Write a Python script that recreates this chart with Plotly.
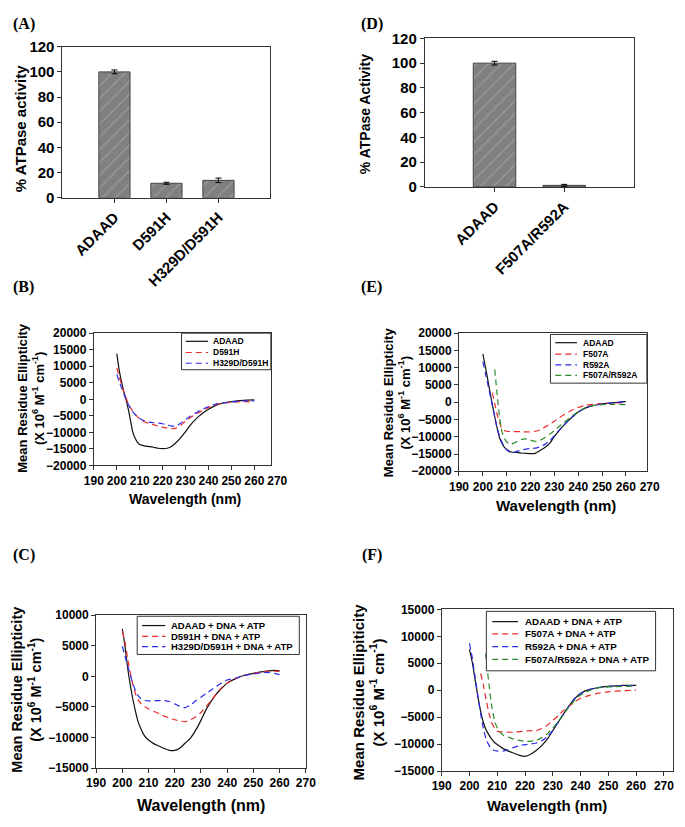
import plotly.graph_objects as go

W, H = 685, 827
SANS = "Liberation Sans"
SERIF = "Liberation Serif"

# ---------------- data ----------------
a_categories = ["ADAAD", "D591H", "H329D/D591H"]
a_activity = [100, 11.5, 13.8]
a_error = [1.5, 0.8, 1.8]

d_categories = ["ADAAD", "F507A/R592A"]
d_activity = [100, 1.3]
d_error = [1.5, 0.8]

wl_ticks = [190, 200, 210, 220, 230, 240, 250, 260, 270]

# Panel B
b_names = ["ADAAD", "D591H", "H329D/D591H"]
b_wl = [200, 201, 202, 203, 204, 205, 206, 207, 208, 209, 210, 212, 214, 216, 218, 220,
        222, 224, 226, 228, 230, 232, 234, 236, 238, 240, 243, 246, 250, 255, 260]
b_adaad = [13800, 9000, 5500, 2500, 0, -3000, -6500, -10000, -11800, -13000, -13700, -14100,
           -14300, -14500, -14800, -14900, -14800, -14200, -13000, -11500, -9800, -7900, -6300,
           -5000, -3900, -3000, -1900, -1200, -700, -300, -200]
b_d591h = [9500, 7000, 4600, 2300, 500, -1200, -2600, -3600, -4500, -5300, -5900, -6800, -7300,
           -7700, -8100, -8400, -8700, -8900, -8700, -7800, -6600, -5600, -4700, -3900, -3200,
           -2500, -1700, -1200, -900, -700, -800]
b_h329d = [7500, 5500, 3600, 1800, 0, -1500, -2800, -3800, -4600, -5300, -5800, -6500, -6900,
           -7100, -7200, -7400, -7700, -8100, -8000, -7200, -6100, -5100, -4300, -3500, -2800,
           -2200, -1500, -1100, -800, -500, -500]

# Panel E
e_names = ["ADAAD", "F507A", "R592A", "F507A/R592A"]
e_wl = [200, 201, 202, 203, 204, 205, 206, 207, 208, 209, 210, 212, 214, 216, 218, 220,
        222, 224, 226, 228, 230, 232, 234, 236, 238, 240, 243, 246, 250, 255, 260]
e_adaad = [14000, 10500, 6800, 3000, -700, -4200, -7500, -10200, -11900, -13000, -13700, -14400,
           -14500, -14700, -14800, -14900, -14800, -14000, -13100, -11900, -9900, -8200, -6600,
           -5200, -4000, -2800, -1700, -1000, -500, -100, 200]
e_r592a = [11800, 8600, 5500, 2200, -1000, -4300, -7500, -9800, -11600, -12900, -13800, -14700,
           -14300, -13900, -13600, -13400, -13300, -12900, -12200, -11200, -9700, -8100, -6600,
           -5200, -4000, -2900, -1700, -1000, -500, -100, 100]
e_f507a_wl = [204, 205, 206, 207, 208, 209, 210, 212, 214, 216, 218, 220, 222, 224, 226, 228,
              230, 232, 234, 236, 238, 240, 243, 246, 250, 255, 260]
e_f507a = [2800, -500, -3500, -5800, -7600, -8200, -8400, -8500, -8500, -8500, -8600, -8600,
           -8400, -8000, -7200, -6400, -5500, -4500, -3600, -2800, -2100, -1500, -900, -600,
           -400, -200, -100]
e_double_wl = [205, 206, 207, 208, 209, 210, 211, 212, 214, 216, 218, 220, 222, 224, 226, 228,
               230, 232, 234, 236, 238, 240, 243, 246, 250, 255, 260]
e_double = [9500, 2300, -4300, -8500, -10400, -11500, -12000, -12100, -11500, -10800, -10600,
            -11000, -11300, -11000, -10300, -9300, -8200, -7000, -5900, -4800, -3700, -2700,
            -1600, -1000, -700, -600, -700]

# Panel C
c_names = ["ADAAD + DNA + ATP", "D591H + DNA + ATP", "H329D/D591H + DNA + ATP"]
c_wl = [200, 201, 202, 203, 204, 205, 206, 207, 208, 209, 210, 212, 214, 216, 218, 220,
        222, 224, 226, 228, 230, 232, 234, 236, 238, 240, 243, 246, 250, 255, 258, 260]
c_adaad = [7800, 5000, 1500, -1300, -3700, -5700, -7400, -8500, -9400, -10000, -10400, -11000,
           -11400, -11800, -12100, -12100, -11700, -10900, -10100, -8800, -7200, -5400, -4000,
           -2800, -1900, -1100, -400, 100, 500, 850, 1000, 900]
c_d591h = [7400, 5600, 3000, 700, -1300, -2800, -3800, -4400, -4800, -5100, -5300, -5700, -6100,
           -6500, -6800, -7100, -7300, -7400, -7100, -6600, -5900, -4900, -3900, -2800, -1800,
           -1100, -400, 100, 500, 800, 850, 800]
c_h329d = [4900, 3400, 1800, 300, -1100, -2300, -3100, -3600, -3800, -3950, -4000, -4000, -3950,
           -3950, -4100, -4500, -4900, -5100, -4700, -4000, -3400, -2800, -2200, -1600, -1000,
           -600, -300, 100, 400, 650, 500, 300]

# Panel F
f_names = ["ADAAD + DNA + ATP", "F507A + DNA + ATP", "R592A + DNA + ATP",
           "F507A/R592A + DNA + ATP"]
f_wl = [200, 201, 202, 203, 204, 205, 206, 207, 208, 209, 210, 212, 214, 216, 218, 220,
        222, 224, 226, 228, 230, 232, 234, 236, 238, 240, 243, 246, 250, 255, 260]
f_adaad = [7600, 5200, 2000, -1100, -3900, -6000, -7400, -8300, -9100, -9700, -10100, -10800,
           -11300, -11700, -12100, -12300, -11900, -11200, -10300, -9100, -7500, -5900, -4300,
           -2800, -1500, -600, 100, 450, 700, 900, 900]
f_r592a = [8700, 6000, 2500, -1000, -4300, -7100, -9100, -10200, -10900, -11200, -11300, -11300,
           -11000, -10600, -10300, -10100, -10000, -9800, -9400, -8600, -7500, -5900, -4300,
           -2800, -1500, -600, 100, 450, 700, 850, 850]
f_f507a_wl = [204, 205, 206, 207, 208, 209, 210, 212, 214, 216, 218, 220, 222, 224, 226, 228,
              230, 232, 234, 236, 238, 240, 243, 246, 250, 255, 260]
f_f507a = [3100, 1000, -1800, -4200, -6000, -7000, -7600, -7800, -7800, -7800, -7700, -7600,
           -7500, -7500, -7100, -6500, -5600, -4700, -3700, -2900, -2100, -1500, -1000, -600,
           -300, -100, 0]
f_double_wl = [205.8, 206.5, 207, 208, 209, 210, 212, 214, 216, 218, 220, 222, 224, 226, 228,
               230, 232, 234, 236, 238, 240, 243, 246, 250, 255, 260]
f_double = [6800, 3500, 1200, -2900, -5600, -7000, -8300, -8700, -9100, -9300, -9500, -9500,
            -9300, -8800, -8100, -7000, -5800, -4400, -3000, -1800, -900, -100, 400, 600, 700, 800]

# ---------------- styling ----------------
BLACK, RED, BLUE, GREEN = "#111111", "#ee2a2a", "#2a2aee", "#2a8a2a"
DASH = "6px,4px"
AXC = "#333333"
LW = 1.2


def xd(l, r):
    return [l / W, r / W]


def yd(t, b):
    return [1 - b / H, 1 - t / H]


fig = go.Figure()

bar_marker = dict(color="#808080", line=dict(color="#454545", width=1),
                  pattern=dict(shape="/", bgcolor="#808080", fgcolor="#b4b4b4",
                               size=9, solidity=0.15))

fig.add_trace(go.Bar(x=a_categories, y=a_activity, width=0.6, marker=bar_marker,
                     error_y=dict(type="data", array=a_error, color="black", thickness=1, width=3),
                     xaxis="x", yaxis="y", showlegend=False))
fig.add_trace(go.Bar(x=d_categories, y=d_activity, width=0.61, marker=bar_marker,
                     error_y=dict(type="data", array=d_error, color="black", thickness=1, width=3),
                     xaxis="x2", yaxis="y2", showlegend=False))


def add_line(x, y, name, color, dash, xa, ya):
    fig.add_trace(go.Scatter(x=x, y=y, name=name, mode="lines",
                             line=dict(color=color, width=LW, dash=dash, shape="spline",
                                       smoothing=0.6),
                             xaxis=xa, yaxis=ya, showlegend=False))


add_line(b_wl, b_adaad, b_names[0], BLACK, "solid", "x3", "y3")
add_line(b_wl, b_d591h, b_names[1], RED, DASH, "x3", "y3")
add_line(b_wl, b_h329d, b_names[2], BLUE, DASH, "x3", "y3")

add_line(e_wl, e_adaad, e_names[0], BLACK, "solid", "x4", "y4")
add_line(e_f507a_wl, e_f507a, e_names[1], RED, DASH, "x4", "y4")
add_line(e_wl, e_r592a, e_names[2], BLUE, DASH, "x4", "y4")
add_line(e_double_wl, e_double, e_names[3], GREEN, DASH, "x4", "y4")

add_line(c_wl, c_adaad, c_names[0], BLACK, "solid", "x5", "y5")
add_line(c_wl, c_d591h, c_names[1], RED, DASH, "x5", "y5")
add_line(c_wl, c_h329d, c_names[2], BLUE, DASH, "x5", "y5")

add_line(f_wl, f_adaad, f_names[0], BLACK, "solid", "x6", "y6")
add_line(f_f507a_wl, f_f507a, f_names[1], RED, DASH, "x6", "y6")
add_line(f_wl, f_r592a, f_names[2], BLUE, DASH, "x6", "y6")
add_line(f_double_wl, f_double, f_names[3], GREEN, DASH, "x6", "y6")

# empty traces that carry the tick-label axes of panels B and E
fig.add_trace(go.Scatter(x=[], y=[], xaxis="x7", yaxis="y3", showlegend=False, hoverinfo="skip"))
fig.add_trace(go.Scatter(x=[], y=[], xaxis="x8", yaxis="y4", showlegend=False, hoverinfo="skip"))

frame = dict(showline=True, linecolor=AXC, linewidth=1, mirror=True, ticks="outside",
             ticklen=4, tickcolor=AXC, showgrid=False, zeroline=False)


def tf(size):
    return dict(family=SANS, size=size, color="black", weight="bold")


# panel geometry in pixels: left, right, top, bottom; x range end
geo = {
    "B": (86.4, 268.7, 331, 466, 267.2),
    "E": (462.5, 656, 331, 472, 268.8),
    "C": (88.7, 304.7, 619, 775, 270),
    "F": (444.7, 683, 613, 778, 273.3),
}


def label_domain(key):
    l, r, t, b, rend = geo[key]
    ppu = (r - l) / (rend - 190)
    return xd(l, l + ppu * 80)


layout_axes = dict(
    xaxis=dict(domain=xd(54, 268.3), type="category", range=[-1, 3], anchor="y",
               tickangle=-45, tickfont=tf(15), **frame),
    yaxis=dict(domain=yd(38.5, 192.7), range=[0, 120], dtick=20, anchor="x",
               tickfont=tf(15), **frame),
    xaxis2=dict(domain=xd(427.3, 642.7), type="category", range=[-1, 2], anchor="y2",
                tickangle=-45, tickfont=tf(15), **frame),
    yaxis2=dict(domain=yd(30, 181.7), range=[0, 120], dtick=20, anchor="x2",
                tickfont=tf(15), **frame),
)

ykeys = {"B": 3, "E": 4, "C": 5, "F": 6}
yranges = {"B": [-20000, 20000], "E": [-20000, 20000], "C": [-15000, 10000],
           "F": [-15000, 15000]}
for key, n in ykeys.items():
    l, r, t, b, rend = geo[key]
    inner = [v for v in wl_ticks if v <= rend]
    needs_labels = rend < 270
    layout_axes[f"xaxis{n}"] = dict(domain=xd(l, r), range=[190, rend], anchor=f"y{n}",
                                    tickvals=inner, showticklabels=not needs_labels,
                                    tickfont=tf(12), **frame)
    layout_axes[f"yaxis{n}"] = dict(domain=yd(t, b), range=yranges[key], dtick=5000,
                                    tickformat="d", anchor=f"x{n}", tickfont=tf(12), **frame)

for n, key, ya in [(7, "B", "y3"), (8, "E", "y4")]:
    layout_axes[f"xaxis{n}"] = dict(domain=label_domain(key), range=[190, 270], anchor=ya,
                                    tickvals=wl_ticks, ticks="outside", ticklen=4,
                                    tickcolor="rgba(0,0,0,0)", showline=False, showgrid=False,
                                    zeroline=False, tickfont=tf(12))

fig.update_layout(
    width=W, height=H, margin=dict(l=0, r=0, t=0, b=0),
    paper_bgcolor="white", plot_bgcolor="rgba(0,0,0,0)", showlegend=False,
    **layout_axes,
)

ann = []
shapes = []


def text(x, y, s, size, family=SANS, angle=0, xanchor="center"):
    ann.append(dict(x=x / W, y=1 - y / H, xref="paper", yref="paper", text=s, showarrow=False,
                    xanchor=xanchor, yanchor="middle", textangle=angle, borderpad=0,
                    font=dict(family=family, size=size, color="black", weight="bold")))


def legend_box(box, sx0, sx1, tx, rows, size, names, styles):
    l, r, t, b = box
    shapes.append(dict(type="rect", xref="paper", yref="paper", x0=l / W, x1=r / W,
                       y0=1 - b / H, y1=1 - t / H, fillcolor="white",
                       line=dict(color=AXC, width=1), layer="above"))
    for ry, name, (color, dash) in zip(rows, names, styles):
        shapes.append(dict(type="line", xref="paper", yref="paper", x0=sx0 / W, x1=sx1 / W,
                           y0=1 - ry / H, y1=1 - ry / H,
                           line=dict(color=color, width=LW, dash=dash), layer="above"))
        text(tx, ry, name, size, xanchor="left")


st3 = [(BLACK, "solid"), (RED, DASH), (BLUE, DASH)]
st4 = [(BLACK, "solid"), (RED, DASH), (BLUE, DASH), (GREEN, DASH)]
legend_box((176.7, 268.7, 331, 368.3), 181, 204, 208.5, [339.3, 350.7, 361.7], 8.5,
           b_names, st3)
legend_box((556.7, 656, 332.3, 382), 561.7, 584, 589, [340.7, 352.3, 363.3, 374], 8.5,
           e_names, st4)
legend_box((131, 298, 620, 659), 136, 160, 165, [629.5, 640.5, 651], 9.5, c_names, st3)
legend_box((490.7, 665, 615, 675.7), 496.7, 523.3, 529, [625.5, 638, 651, 664], 9.8,
           f_names, st4)

for lbl, x, y in [("(A)", 14, 15), ("(D)", 372.5, 15), ("(B)", 14, 283.5),
                  ("(E)", 372.5, 284), ("(C)", 14, 557.5), ("(F)", 372.5, 557.5)]:
    text(x, y, lbl, 16, SERIF)

text(11, 122, "% ATPase activity", 15, angle=-90)
text(365, 107, "% ATPase Activity", 14, angle=-90)

unit = "(X 10<sup>6</sup> M<sup>-1</sup> cm<sup>-1</sup>)"
text(21.5, 397, "Mean Residue Ellipticity<br>" + unit, 13, angle=-90)
text(398, 401, "Mean Residue Ellipticity<br>" + unit, 13, angle=-90)
text(17.5, 695, "Mean Residue Ellipticity<br>" + unit, 14.5, angle=-90)
text(369.5, 697, "Mean Residue Ellipiticity<br>" + unit, 15, angle=-90)

text(180, 500, "Wavelength (nm)", 14)
text(562, 507, "Wavelength (nm)", 15)
text(197, 813, "Wavelength (nm)", 16)
text(553, 813, "Wavelength (nm)", 15)

fig.update_layout(annotations=ann, shapes=shapes)

fig.write_html("out.html", config={"displayModeBar": False},
               post_script="document.body.style.margin='0';")
